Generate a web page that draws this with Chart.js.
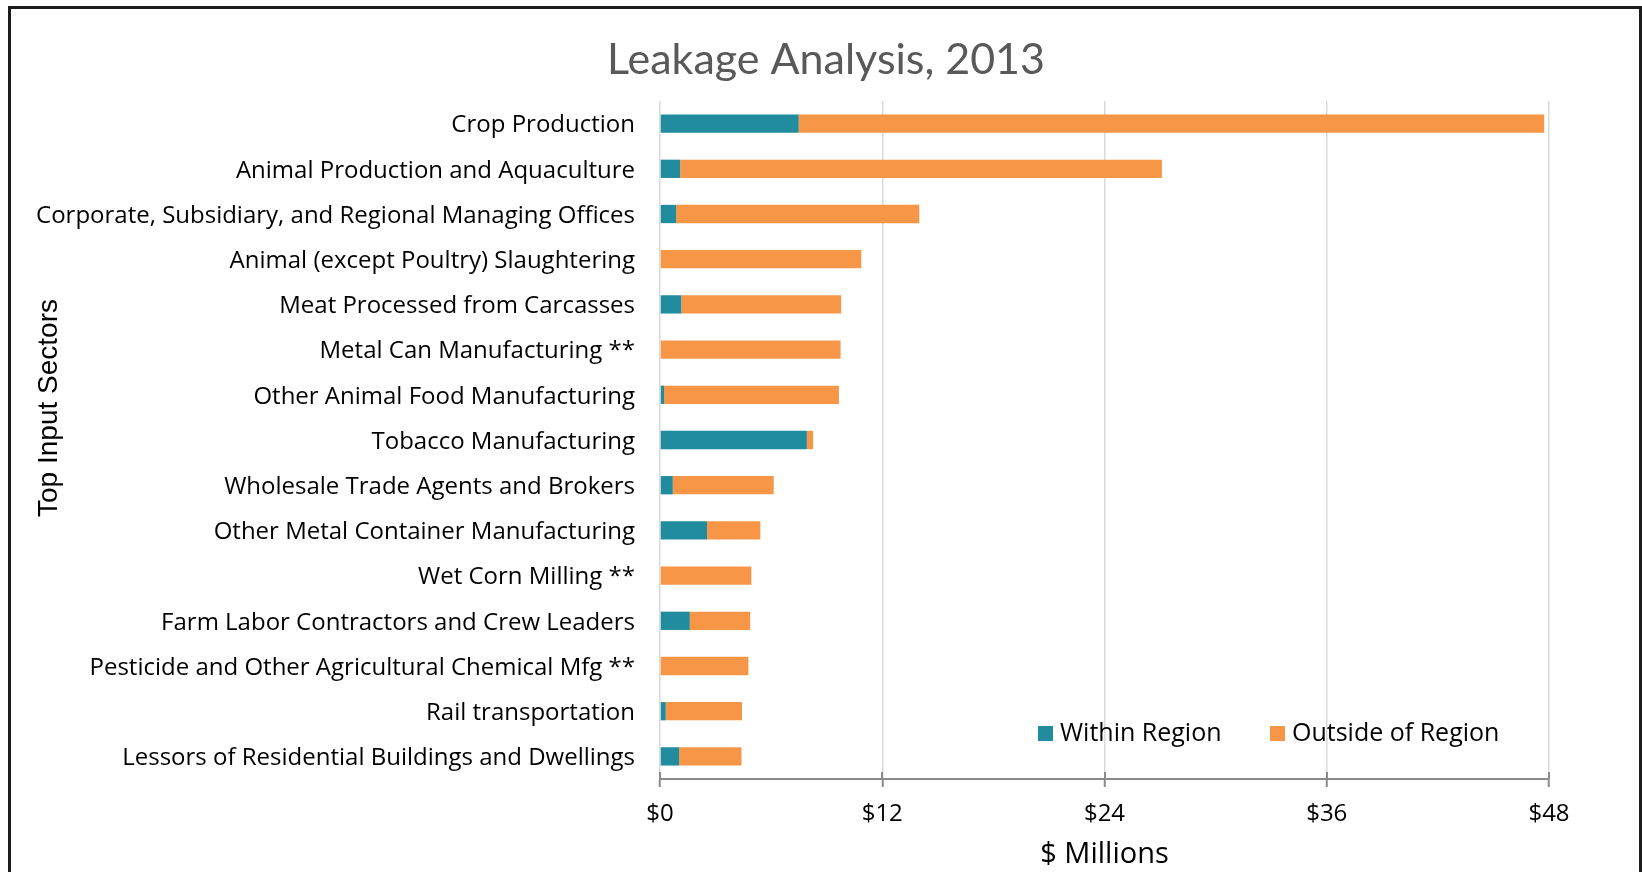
<!DOCTYPE html>
<html>
<head>
<meta charset="utf-8">
<title>Leakage Analysis, 2013</title>
<script src="https://cdn.jsdelivr.net/npm/chart.js@4.4.1/dist/chart.umd.min.js"></script>
<style>
    html, body { margin: 0; padding: 0; background: #fff; overflow: hidden; }
    #wrap { position: relative; width: 1642px; height: 872px; }
    #frame {
        position: absolute; left: 8px; top: 6px; width: 1634px; height: 900px;
        border: 3px solid #1c1c1c; box-sizing: border-box; pointer-events: none;
    }
</style>
</head>
<body>
<div id="wrap">
    <canvas id="leakageChart"></canvas>
    <div id="frame"></div>
</div>
<script>
const chartTitle = 'Leakage Analysis, 2013';
const yAxisTitle = 'Top Input Sectors';
const xAxisTitle = '$ Millions';

const sectors = [
    'Crop Production',
    'Animal Production and Aquaculture',
    'Corporate, Subsidiary, and Regional Managing Offices',
    'Animal (except Poultry) Slaughtering',
    'Meat Processed from Carcasses',
    'Metal Can Manufacturing **',
    'Other Animal Food Manufacturing',
    'Tobacco Manufacturing',
    'Wholesale Trade Agents and Brokers',
    'Other Metal Container Manufacturing',
    'Wet Corn Milling **',
    'Farm Labor Contractors and Crew Leaders',
    'Pesticide and Other Agricultural Chemical Mfg **',
    'Rail transportation',
    'Lessors of Residential Buildings and Dwellings'
];

// $ millions
const withinRegion = [7.49, 1.09, 0.87, 0, 1.15, 0, 0.22, 7.93, 0.69, 2.54, 0, 1.61, 0, 0.31, 1.03];
const outsideRegion = [40.25, 26.01, 13.13, 10.87, 8.63, 9.75, 9.44, 0.34, 5.45, 2.88, 4.93, 3.26, 4.77, 4.12, 3.37];

const xTicks = [0, 12, 24, 36, 48];

const seriesNames = ['Within Region', 'Outside of Region'];
const seriesColors = ['#218c9d', '#f79646'];

const labelFont = 'Open Sans';

// tick marks that cross the x axis line, like Excel's "cross" marks
const crossTicks = {
    id: 'crossTicks',
    afterDatasetsDraw(chart) {
        const { ctx, chartArea, scales } = chart;
        ctx.save();
        ctx.strokeStyle = '#8a8a8a';
        ctx.lineWidth = 2;
        xTicks.forEach(v => {
            const x = Math.round(scales.x.getPixelForValue(v));
            ctx.beginPath();
            ctx.moveTo(x, chartArea.bottom - 7);
            ctx.lineTo(x, chartArea.bottom);
            ctx.stroke();
        });
        ctx.restore();
    }
};

// chart title and y axis title, placed where the original has them
const titles = {
    id: 'titles',
    afterDraw(chart) {
        const { ctx, chartArea } = chart;
        ctx.save();
        ctx.textAlign = 'center';
        ctx.textBaseline = 'middle';

        ctx.fillStyle = '#595959';
        ctx.font = '43px Lato';
        ctx.fillText(chartTitle, 826, 60);

        ctx.fillStyle = '#000';
        ctx.font = '28px "Liberation Sans"';
        ctx.translate(49, chartArea.top + 307);
        ctx.rotate(-Math.PI / 2);
        ctx.fillText(yAxisTitle, 0, 0);
        ctx.restore();
    }
};

// legend sitting inside the plot, lower right
const innerLegend = {
    id: 'innerLegend',
    afterDraw(chart) {
        const { ctx, chartArea } = chart;
        const startX = [chartArea.right - 511, chartArea.right - 279];
        const cy = chartArea.bottom - 45;
        ctx.save();
        ctx.font = '25px "' + labelFont + '"';
        ctx.textBaseline = 'middle';
        chart.data.datasets.forEach((ds, i) => {
            ctx.fillStyle = ds.backgroundColor;
            ctx.fillRect(startX[i], cy - 8, 15, 15);
            ctx.fillStyle = '#000';
            ctx.fillText(ds.label, startX[i] + 22, cy);
        });
        ctx.restore();
    }
};

function createLeakageChart() {
    const ctx = document.getElementById('leakageChart').getContext('2d');

    new Chart(ctx, {
        type: 'bar',
        data: {
            labels: sectors,
            datasets: [{
                label: seriesNames[0],
                data: withinRegion,
                backgroundColor: seriesColors[0],
                borderWidth: 0
            }, {
                label: seriesNames[1],
                data: outsideRegion,
                backgroundColor: seriesColors[1],
                borderWidth: 0
            }]
        },
        options: {
            indexAxis: 'y',
            responsive: true,
            maintainAspectRatio: false,
            animation: false,
            datasets: {
                bar: { categoryPercentage: 1, barPercentage: 0.405 }
            },
            layout: { padding: { left: 0, right: 93, top: 101, bottom: 0 } },
            scales: {
                x: {
                    stacked: true,
                    min: 0,
                    max: 48,
                    afterBuildTicks: scale => { scale.ticks = xTicks.map(v => ({ value: v })); },
                    afterFit: scale => { scale.height = 93; },
                    grid: {
                        color: '#d9d9d9',
                        lineWidth: 1.5,
                        tickColor: '#8a8a8a',
                        tickLength: 8,
                        tickWidth: 2
                    },
                    border: { display: true, color: '#8a8a8a', width: 2 },
                    ticks: {
                        padding: 13,
                        color: '#000',
                        font: { family: labelFont, size: 24 },
                        callback: v => '$' + v
                    },
                    title: {
                        display: true,
                        text: xAxisTitle,
                        color: '#000',
                        font: { family: labelFont, size: 29 },
                        padding: { top: 0, bottom: 0 }
                    }
                },
                y: {
                    stacked: true,
                    afterFit: scale => { scale.width = 660; },
                    grid: { display: false, drawTicks: false },
                    border: { display: false },
                    ticks: {
                        padding: 25,
                        labelOffset: 2,
                        color: '#000',
                        font: { family: labelFont, size: 24 }
                    }
                }
            },
            plugins: {
                legend: { display: false },
                tooltip: { enabled: false },
                title: { display: false }
            }
        },
        plugins: [crossTicks, titles, innerLegend]
    });
}

document.addEventListener('DOMContentLoaded', createLeakageChart);
</script>
</body>
</html>
